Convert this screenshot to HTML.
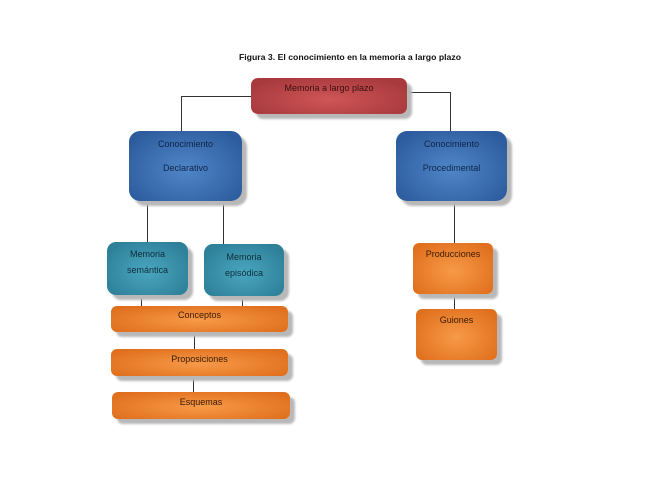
<!DOCTYPE html>
<html><head><meta charset="utf-8"><style>
body{margin:0;width:660px;height:495px;background:#fff;position:relative;overflow:hidden;font-family:"Liberation Sans",sans-serif;}
.b{position:absolute;box-sizing:border-box;text-align:center;font-size:9px;color:#222;box-shadow:5px 5px 2px #b8b8b8;}
.r{background:radial-gradient(ellipse at 50% 60%,#cf5656,#a83a3e 80%);border-radius:7px;color:#3a1010;}
.bl{background:radial-gradient(ellipse at 50% 55%,#4f86c8,#2d5c9e 85%);border-radius:11px;color:#0f2547;}
.t{background:radial-gradient(ellipse at 50% 55%,#4aa6bf,#2e7f98 85%);border-radius:9px;color:#0d2e3a;}
.o{background:radial-gradient(ellipse at 50% 55%,#f79a48,#e0701e 85%);border-radius:6px;color:#3a1a05;}
.l{position:absolute;background:#333;}
</style></head><body>
<div style="position:absolute;left:0;width:700px;top:52px;text-align:center;font-size:8.7px;font-weight:bold;color:#111;">Figura 3. El conocimiento en la memoria a largo plazo</div>
<div class="l" style="left:181px;top:96px;width:70px;height:1px"></div>
<div class="l" style="left:181px;top:96px;width:1px;height:36px"></div>
<div class="l" style="left:407px;top:92px;width:43px;height:1px"></div>
<div class="l" style="left:450px;top:92px;width:1px;height:40px"></div>
<div class="l" style="left:147px;top:200px;width:1px;height:43px"></div>
<div class="l" style="left:223px;top:200px;width:1px;height:44px"></div>
<div class="l" style="left:454px;top:200px;width:1px;height:43px"></div>
<div class="l" style="left:141px;top:294px;width:1px;height:12px"></div>
<div class="l" style="left:242px;top:295px;width:1px;height:11px"></div>
<div class="l" style="left:194px;top:331px;width:1px;height:18px"></div>
<div class="l" style="left:193px;top:375px;width:1px;height:18px"></div>
<div class="l" style="left:454px;top:293px;width:1px;height:16px"></div>

<div class="b r" style="left:251px;top:78px;width:156px;height:36px;padding-top:5px">Memoria a largo plazo</div>
<div class="b bl" style="left:129px;top:131px;width:113px;height:70px;padding-top:1px;line-height:24px">Conocimiento<br>Declarativo</div>
<div class="b bl" style="left:396px;top:131px;width:111px;height:70px;padding-top:1px;line-height:24px">Conocimiento<br>Procedimental</div>
<div class="b t" style="left:107px;top:242px;width:81px;height:53px;padding-top:4px;line-height:16px">Memoria<br>semántica</div>
<div class="b t" style="left:204px;top:244px;width:80px;height:52px;padding-top:5px;line-height:16px">Memoria<br>episódica</div>
<div class="b o" style="left:111px;top:306px;width:177px;height:26px;padding-top:4px">Conceptos</div>
<div class="b o" style="left:111px;top:349px;width:177px;height:27px;padding-top:5px">Proposiciones</div>
<div class="b o" style="left:112px;top:392px;width:178px;height:27px;padding-top:5px">Esquemas</div>
<div class="b o" style="left:413px;top:243px;width:80px;height:51px;padding-top:6px">Producciones</div>
<div class="b o" style="left:416px;top:309px;width:81px;height:51px;padding-top:6px">Guiones</div>
</body></html>
